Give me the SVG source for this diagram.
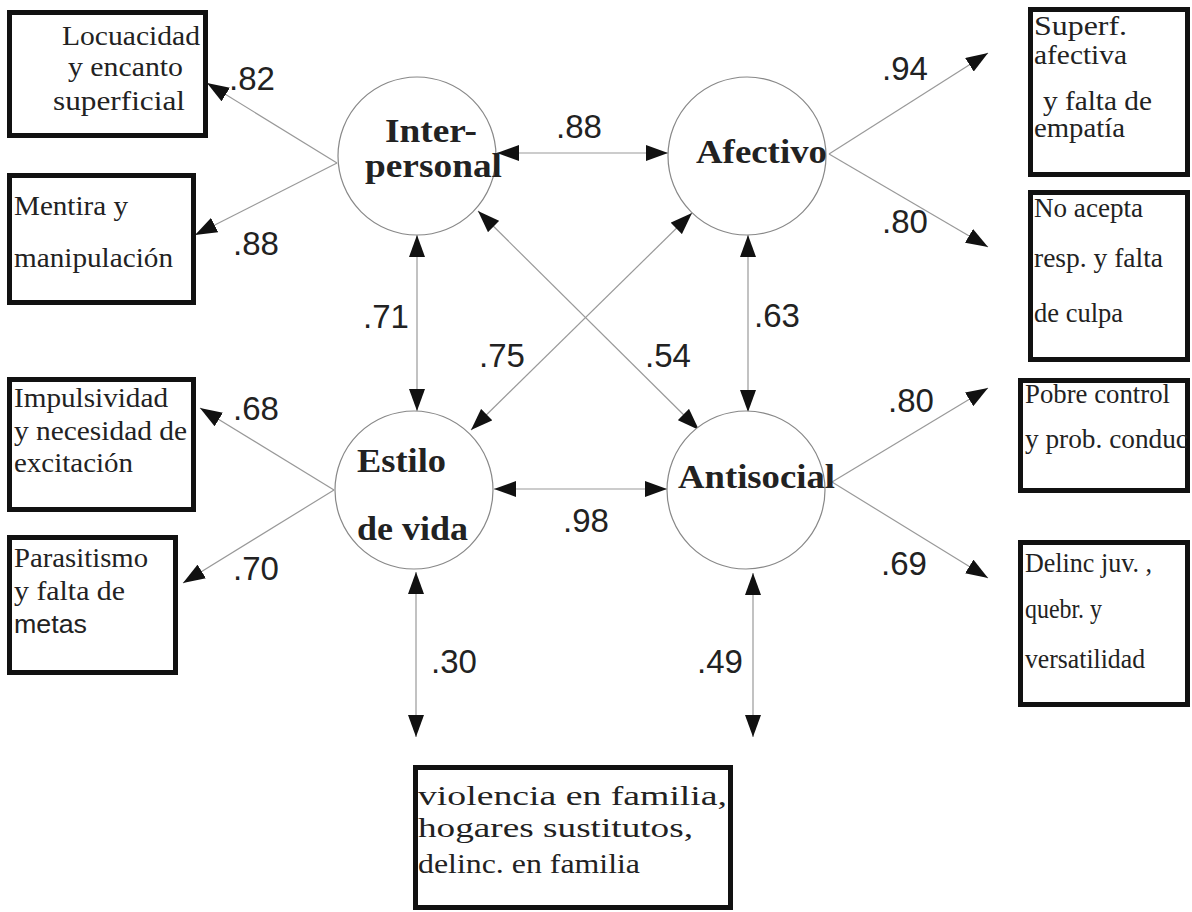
<svg xmlns="http://www.w3.org/2000/svg" width="1192" height="912" viewBox="0 0 1192 912">
<defs>
<marker id="ah" markerUnits="userSpaceOnUse" markerWidth="22" markerHeight="16" refX="22" refY="8" orient="auto-start-reverse" viewBox="0 0 22 16">
<path d="M0,0 L22,8 L0,16 z" fill="#111"/>
</marker>
<style>
.box{fill:#fff;stroke:#111;stroke-width:5}
.lat{fill:#fff;stroke:#888;stroke-width:1.2}
.bt{font-family:"Liberation Serif",serif;font-size:27px;fill:#222}
.bs{font-family:"Liberation Sans",sans-serif;font-size:26px;fill:#222}
.lt{font-family:"Liberation Serif",serif;font-size:34px;font-weight:bold;fill:#222}
.num{font-family:"Liberation Sans",sans-serif;font-size:33px;fill:#222}
.c{stroke:#999;stroke-width:1.2;fill:none}
.d{marker-start:url(#ah);marker-end:url(#ah)}
.s{marker-end:url(#ah)}
</style>
</defs>
<rect width="1192" height="912" fill="#fff"/>

<g id="connectors">
<line class="c d" x1="497" y1="153" x2="668" y2="153"/>
<line class="c d" x1="494" y1="489" x2="667" y2="489"/>
<line class="c d" x1="417" y1="235" x2="417" y2="411"/>
<line class="c d" x1="748" y1="235" x2="748" y2="412"/>
<line class="c d" x1="692" y1="213" x2="471" y2="430"/>
<line class="c d" x1="478" y1="211" x2="699" y2="430"/>
<line class="c d" x1="416" y1="572" x2="416" y2="737"/>
<line class="c d" x1="753" y1="573" x2="753" y2="737"/>
<line class="c s" x1="337" y1="163" x2="207" y2="83"/>
<line class="c s" x1="337" y1="163" x2="195" y2="235"/>
<line class="c s" x1="829" y1="154" x2="988" y2="53"/>
<line class="c s" x1="829" y1="154" x2="988" y2="247"/>
<line class="c s" x1="832" y1="482" x2="988" y2="388"/>
<line class="c s" x1="832" y1="482" x2="988" y2="578"/>
<line class="c s" x1="334" y1="490" x2="200" y2="408"/>
<line class="c s" x1="334" y1="490" x2="183" y2="583"/>
</g>

<g id="labels">
<text class="num" x="229" y="90">.82</text>
<text class="num" x="233" y="255">.88</text>
<text class="num" x="556" y="138">.88</text>
<text class="num" x="882" y="80">.94</text>
<text class="num" x="882" y="233">.80</text>
<text class="num" x="363" y="328">.71</text>
<text class="num" x="754" y="327">.63</text>
<text class="num" x="479" y="367">.75</text>
<text class="num" x="645" y="367">.54</text>
<text class="num" x="563" y="532">.98</text>
<text class="num" x="233" y="420">.68</text>
<text class="num" x="233" y="580">.70</text>
<text class="num" x="888" y="412">.80</text>
<text class="num" x="881" y="575">.69</text>
<text class="num" x="431" y="673">.30</text>
<text class="num" x="697" y="673">.49</text>
</g>

<g id="interpersonal">
<circle class="lat" cx="417" cy="156" r="79"/>
<text class="lt" x="385" y="142" textLength="92" lengthAdjust="spacingAndGlyphs">Inter-</text>
<text class="lt" x="365" y="177" textLength="137" lengthAdjust="spacingAndGlyphs">personal</text>
</g>
<g id="afectivo">
<circle class="lat" cx="747" cy="156" r="79"/>
<text class="lt" x="696" y="163" textLength="131" lengthAdjust="spacingAndGlyphs">Afectivo</text>
</g>
<g id="estilo">
<circle class="lat" cx="414" cy="490" r="79"/>
<text class="lt" x="357" y="472" textLength="89" lengthAdjust="spacingAndGlyphs">Estilo</text>
<text class="lt" x="357" y="540" textLength="111" lengthAdjust="spacingAndGlyphs">de vida</text>
</g>
<g id="antisocial">
<circle class="lat" cx="746" cy="490" r="79"/>
<text class="lt" x="678" y="488" textLength="157" lengthAdjust="spacingAndGlyphs">Antisocial</text>
</g>

<g id="locuacidad">
<rect class="box" x="9.5" y="12.5" width="196" height="123"/>
<text class="bt" x="62" y="45" textLength="138" lengthAdjust="spacingAndGlyphs">Locuacidad</text>
<text class="bt" x="68" y="76" textLength="115" lengthAdjust="spacingAndGlyphs">y encanto</text>
<text class="bt" x="53" y="110" textLength="132" lengthAdjust="spacingAndGlyphs">superficial</text>
</g>
<g id="mentira">
<rect class="box" x="9.5" y="175.5" width="184" height="127"/>
<text class="bt" x="14" y="215" textLength="114" lengthAdjust="spacingAndGlyphs">Mentira y</text>
<text class="bt" x="14" y="267" textLength="159" lengthAdjust="spacingAndGlyphs">manipulación</text>
</g>
<g id="impulsividad">
<rect class="box" x="9.5" y="379.5" width="184" height="130"/>
<text class="bt" x="14" y="407" textLength="154" lengthAdjust="spacingAndGlyphs">Impulsividad</text>
<text class="bt" x="14" y="440" textLength="173" lengthAdjust="spacingAndGlyphs">y necesidad de</text>
<text class="bt" x="14" y="472" textLength="119" lengthAdjust="spacingAndGlyphs">excitación</text>
</g>
<g id="parasitismo">
<rect class="box" x="9.5" y="537.5" width="166" height="135"/>
<text class="bt" x="14" y="567" textLength="134" lengthAdjust="spacingAndGlyphs">Parasitismo</text>
<text class="bt" x="14" y="600" textLength="111" lengthAdjust="spacingAndGlyphs">y falta de</text>
<text class="bs" x="14" y="633" textLength="73" lengthAdjust="spacingAndGlyphs">metas</text>
</g>
<g id="superf">
<rect class="box" x="1030.5" y="9.5" width="157" height="165"/>
<text class="bt" x="1034" y="35" font-size="23" textLength="93" lengthAdjust="spacingAndGlyphs">Superf.</text>
<text class="bt" x="1034" y="64" font-size="23" textLength="93" lengthAdjust="spacingAndGlyphs">afectiva</text>
<text class="bt" x="1043" y="110" textLength="109" lengthAdjust="spacingAndGlyphs">y falta de</text>
<text class="bt" x="1034" y="137" textLength="91" lengthAdjust="spacingAndGlyphs">empatía</text>
</g>
<g id="noacepta">
<rect class="box" x="1030.5" y="192.5" width="157" height="167"/>
<text class="bt" x="1034" y="217" textLength="109" lengthAdjust="spacingAndGlyphs">No acepta</text>
<text class="bt" x="1034" y="267" textLength="129" lengthAdjust="spacingAndGlyphs">resp. y falta</text>
<text class="bt" x="1034" y="322" textLength="89" lengthAdjust="spacingAndGlyphs">de culpa</text>
</g>
<g id="pobre">
<rect class="box" x="1020.5" y="380.5" width="167" height="110"/>
<text class="bt" x="1025" y="403" font-size="24" textLength="145" lengthAdjust="spacingAndGlyphs">Pobre control</text>
<text class="bt" x="1025" y="448" font-size="24" textLength="163" lengthAdjust="spacingAndGlyphs">y prob. conduc</text>
</g>
<g id="delinc">
<rect class="box" x="1020.5" y="542.5" width="167" height="162"/>
<text class="bt" x="1025" y="572" font-size="22" textLength="127" lengthAdjust="spacingAndGlyphs">Delinc juv. ,</text>
<text class="bt" x="1025" y="618" font-size="22" textLength="77" lengthAdjust="spacingAndGlyphs">quebr. y</text>
<text class="bt" x="1025" y="668" font-size="22" textLength="120" lengthAdjust="spacingAndGlyphs">versatilidad</text>
</g>
<g id="familia">
<rect class="box" x="415.5" y="767.5" width="315" height="140"/>
<text class="bt" x="418" y="805" font-size="37" textLength="309" lengthAdjust="spacingAndGlyphs">violencia en familia,</text>
<text class="bt" x="418" y="837" font-size="37" textLength="275" lengthAdjust="spacingAndGlyphs">hogares sustitutos,</text>
<text class="bt" x="418" y="873" font-size="32" textLength="222" lengthAdjust="spacingAndGlyphs">delinc. en familia</text>
</g>
</svg>
